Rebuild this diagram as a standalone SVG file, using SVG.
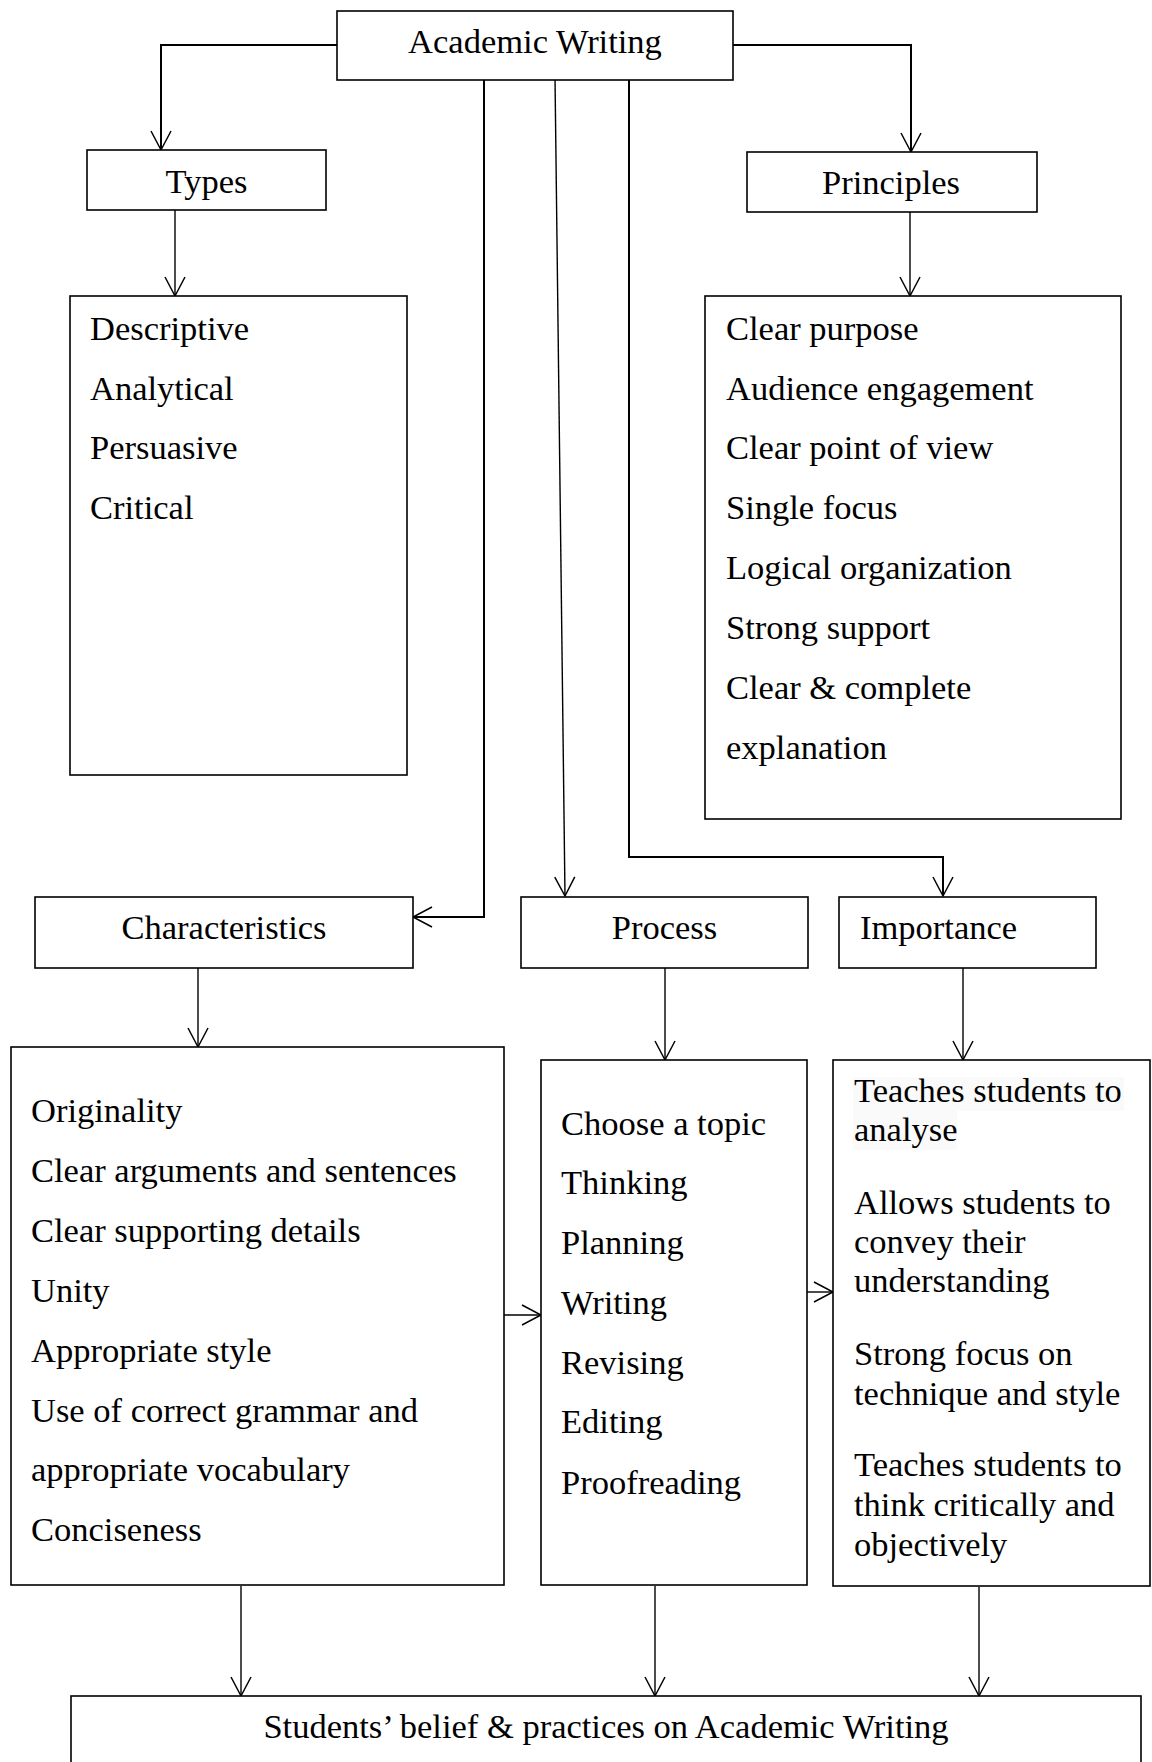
<svg xmlns="http://www.w3.org/2000/svg" width="1152" height="1762" viewBox="0 0 1152 1762">
<defs>
<marker id="arr" markerUnits="userSpaceOnUse" markerWidth="24" markerHeight="24" viewBox="-2 -12 24 24" refX="19" refY="0" orient="auto">
<path d="M0,-10 L19,0 L0,10" fill="none" stroke="#000" stroke-width="1.5"/>
</marker>
</defs>
<style>
.box{fill:#fff;stroke:#000;stroke-width:1.6}
.t{font-family:"Liberation Serif","Times New Roman",serif;font-size:34.5px;fill:#000}
.c{text-anchor:middle}
.ln{fill:none;stroke:#000;stroke-width:1.4}
.lt{fill:none;stroke:#000;stroke-width:2}
</style>
<rect x="0" y="0" width="1152" height="1762" fill="#fff"/>
<g id="connectors">
<polyline class="lt" points="337,45 161,45 161,150" marker-end="url(#arr)"/>
<polyline class="lt" points="733,45 911,45 911,152" marker-end="url(#arr)"/>
<line class="ln" x1="175" y1="210" x2="175" y2="296" marker-end="url(#arr)"/>
<line class="ln" x1="910" y1="212" x2="910" y2="296" marker-end="url(#arr)"/>
<polyline class="lt" points="484,80 484,917 413,917" marker-end="url(#arr)"/>
<line class="ln" x1="555" y1="77" x2="565" y2="896" marker-end="url(#arr)"/>
<polyline class="lt" points="629,80 629,857 943,857 943,896" marker-end="url(#arr)"/>
<line class="ln" x1="198" y1="968" x2="198" y2="1047" marker-end="url(#arr)"/>
<line class="ln" x1="665" y1="968" x2="665" y2="1060" marker-end="url(#arr)"/>
<line class="ln" x1="963" y1="968" x2="963" y2="1060" marker-end="url(#arr)"/>
<line class="ln" x1="504" y1="1315" x2="541" y2="1315" marker-end="url(#arr)"/>
<line class="ln" x1="807" y1="1292" x2="833" y2="1292" marker-end="url(#arr)"/>
<line class="ln" x1="241" y1="1586" x2="241" y2="1696" marker-end="url(#arr)"/>
<line class="ln" x1="655" y1="1586" x2="655" y2="1696" marker-end="url(#arr)"/>
<line class="ln" x1="979" y1="1587" x2="979" y2="1696" marker-end="url(#arr)"/>
</g>
<g id="academic-writing">
<rect class="box" x="337" y="11" width="396" height="69"/>
<text class="t c" x="535" y="53">Academic Writing</text>
</g>
<g id="types">
<rect class="box" x="87" y="150" width="239" height="60"/>
<text class="t c" x="206.5" y="193">Types</text>
</g>
<g id="types-list">
<rect class="box" x="70" y="296" width="337" height="479"/>
<text class="t" x="90" y="340">Descriptive</text>
<text class="t" x="90" y="400">Analytical</text>
<text class="t" x="90" y="459">Persuasive</text>
<text class="t" x="90" y="519">Critical</text>
</g>
<g id="principles">
<rect class="box" x="747" y="152" width="290" height="60"/>
<text class="t c" x="891" y="194">Principles</text>
</g>
<g id="principles-list">
<rect class="box" x="705" y="296" width="416" height="523"/>
<text class="t" x="726" y="340">Clear purpose</text>
<text class="t" x="726" y="400">Audience engagement</text>
<text class="t" x="726" y="459">Clear point of view</text>
<text class="t" x="726" y="519">Single focus</text>
<text class="t" x="726" y="579">Logical organization</text>
<text class="t" x="726" y="639">Strong support</text>
<text class="t" x="726" y="699">Clear &amp; complete</text>
<text class="t" x="726" y="759">explanation</text>
</g>
<g id="characteristics">
<rect class="box" x="35" y="897" width="378" height="71"/>
<text class="t c" x="224" y="939">Characteristics</text>
</g>
<g id="process">
<rect class="box" x="521" y="897" width="287" height="71"/>
<text class="t c" x="664.5" y="939">Process</text>
</g>
<g id="importance">
<rect class="box" x="839" y="897" width="257" height="71"/>
<text class="t" x="860" y="939">Importance</text>
</g>
<g id="characteristics-list">
<rect class="box" x="11" y="1047" width="493" height="538"/>
<text class="t" x="31" y="1122">Originality</text>
<text class="t" x="31" y="1182">Clear arguments and sentences</text>
<text class="t" x="31" y="1242">Clear supporting details</text>
<text class="t" x="31" y="1302">Unity</text>
<text class="t" x="31" y="1362">Appropriate style</text>
<text class="t" x="31" y="1422">Use of correct grammar and</text>
<text class="t" x="31" y="1481">appropriate vocabulary</text>
<text class="t" x="31" y="1541">Conciseness</text>
</g>
<g id="process-list">
<rect class="box" x="541" y="1060" width="266" height="525"/>
<text class="t" x="561" y="1135">Choose a topic</text>
<text class="t" x="561" y="1194">Thinking</text>
<text class="t" x="561" y="1254">Planning</text>
<text class="t" x="561" y="1314">Writing</text>
<text class="t" x="561" y="1374">Revising</text>
<text class="t" x="561" y="1433">Editing</text>
<text class="t" x="561" y="1494">Proofreading</text>
</g>
<g id="importance-list">
<rect class="box" x="833" y="1060" width="317" height="526"/>
<rect x="853" y="1077" width="271" height="34" fill="#fafafa"/>
<rect x="853" y="1111" width="104" height="39" fill="#fafafa"/>
<text class="t" x="854" y="1102">Teaches students to</text>
<text class="t" x="854" y="1141">analyse</text>
<text class="t" x="854" y="1214">Allows students to</text>
<text class="t" x="854" y="1253">convey their</text>
<text class="t" x="854" y="1292">understanding</text>
<text class="t" x="854" y="1365">Strong focus on</text>
<text class="t" x="854" y="1405">technique and style</text>
<text class="t" x="854" y="1476">Teaches students to</text>
<text class="t" x="854" y="1516">think critically and</text>
<text class="t" x="854" y="1556">objectively</text>
</g>
<g id="students-belief">
<rect class="box" x="71" y="1696" width="1070" height="90"/>
<text class="t c" x="606" y="1738">Students’ belief &amp; practices on Academic Writing</text>
</g>
</svg>
